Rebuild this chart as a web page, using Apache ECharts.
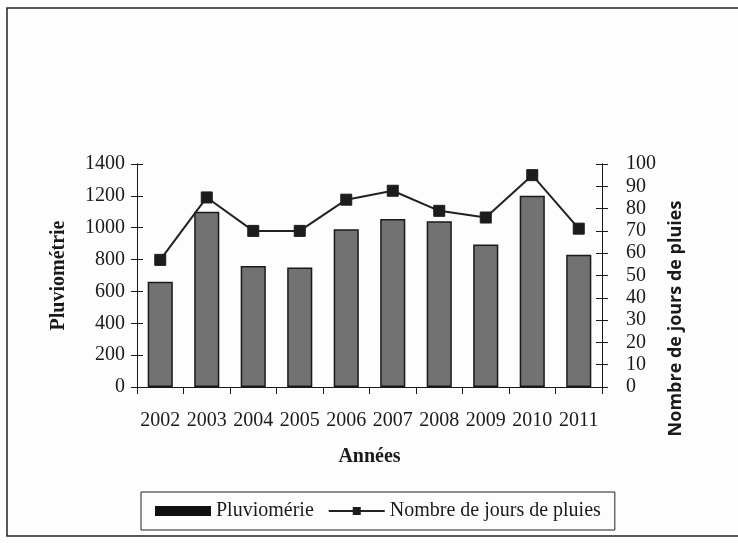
<!DOCTYPE html>
<html>
<head>
<meta charset="utf-8">
<script src="https://cdn.jsdelivr.net/npm/echarts@6/dist/echarts.min.js"></script>
<style>
  html, body { margin: 0; padding: 0; background: #fdfdfd; }
  #chart { width: 738px; height: 543px; }
</style>
</head>
<body>
<div id="chart"></div>
<script>
// Annual rainfall (mm) and number of rainy days, 2002-2011
const years = ['2002', '2003', '2004', '2005', '2006', '2007', '2008', '2009', '2010', '2011'];
const pluviometrie = [660, 1100, 760, 750, 990, 1055, 1040, 895, 1200, 830];
const joursDePluie = [57, 85, 70, 70, 84, 88, 79, 76, 95, 71];

const serif = '"Liberation Serif", "DejaVu Serif", serif';
const ink = '#1a1a1a';

const chart = echarts.init(document.getElementById('chart'), null, { renderer: 'canvas' });

const plain = v => String(v);

const leftAxisBase = {
  type: 'value',
  min: 0,
  max: 1400,
  interval: 200,
  splitLine: { show: false },
  axisLine: { show: true, lineStyle: { color: ink, width: 1 } }
};
const rightAxisBase = {
  type: 'value',
  min: 0,
  max: 100,
  interval: 10,
  splitLine: { show: false },
  axisLine: { show: true, lineStyle: { color: ink, width: 1 } }
};

chart.setOption({
  backgroundColor: '#fdfdfd',
  animation: false,
  graphic: [{
    type: 'rect',
    shape: { x: 7, y: 8, width: 760, height: 528 },
    style: { fill: 'none', stroke: '#222', lineWidth: 1.5 },
    silent: true
  }],
  grid: { left: 137, right: 136, top: 164, bottom: 156 },
  legend: {
    bottom: 13,
    left: 141,
    padding: [9, 14, 9, 14],
    borderColor: '#222',
    borderWidth: 1,
    itemWidth: 56,
    itemHeight: 10,
    itemGap: 14,
    textStyle: { fontFamily: serif, fontSize: 20, color: ink },
    data: [
      { name: 'Pluviomérie', icon: 'rect', itemStyle: { color: '#111', borderWidth: 0 } },
      { name: 'Nombre de jours de pluies' }
    ]
  },
  xAxis: {
    type: 'category',
    data: years,
    name: 'Années',
    nameLocation: 'middle',
    nameGap: 60,
    nameTextStyle: { fontFamily: serif, fontSize: 20, fontWeight: 'bold', color: ink },
    axisLine: { lineStyle: { color: ink, width: 1 } },
    axisTick: { show: true, length: 7, lineStyle: { color: ink } },
    axisLabel: { fontFamily: serif, fontSize: 20, color: ink, margin: 24, interval: 0 }
  },
  yAxis: [
    Object.assign({}, leftAxisBase, {
      position: 'left',
      name: 'Pluviométrie',
      nameLocation: 'middle',
      nameGap: 68,
      nameRotate: 90,
      nameTextStyle: { fontFamily: serif, fontSize: 20, fontWeight: 'bold', color: ink },
      axisTick: { show: true, length: 6, lineStyle: { color: ink } },
      axisLabel: { fontFamily: serif, fontSize: 20, color: ink, margin: 12, formatter: plain }
    }),
    Object.assign({}, rightAxisBase, {
      position: 'right',
      name: 'Nombre de jours de pluies',
      nameLocation: 'middle',
      nameGap: 64,
      nameRotate: 90,
      nameTextStyle: {
        fontFamily: '"Open Sans", "DejaVu Sans", sans-serif',
        fontSize: 18, fontWeight: 'bold', color: ink,
        padding: [0, 86, 0, 0]
      },
      axisTick: { show: true, length: 6, lineStyle: { color: ink } },
      axisLabel: { fontFamily: serif, fontSize: 20, color: ink, margin: 24, formatter: plain }
    }),
    // inner halves of the crossing ticks on both value axes
    Object.assign({}, leftAxisBase, {
      position: 'left',
      axisTick: { show: true, inside: true, length: 6, lineStyle: { color: ink } },
      axisLabel: { show: false }
    }),
    Object.assign({}, rightAxisBase, {
      position: 'right',
      axisTick: { show: true, inside: true, length: 6, lineStyle: { color: ink } },
      axisLabel: { show: false }
    })
  ],
  series: [
    {
      name: 'Pluviomérie',
      type: 'bar',
      yAxisIndex: 0,
      data: pluviometrie,
      barWidth: '54%',
      itemStyle: { color: '#727272', borderColor: '#1a1a1a', borderWidth: 1.5 }
    },
    {
      name: 'Nombre de jours de pluies',
      type: 'line',
      yAxisIndex: 1,
      data: joursDePluie,
      symbol: 'rect',
      symbolSize: 11,
      lineStyle: { color: '#222', width: 2 },
      itemStyle: { color: '#1c1c1c', borderColor: '#1c1c1c' },
      z: 5
    }
  ]
});
</script>
</body>
</html>
